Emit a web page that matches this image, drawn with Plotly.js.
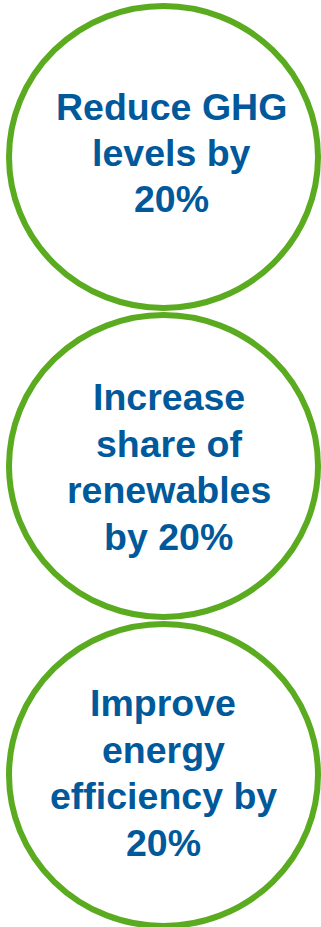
<!DOCTYPE html>
<html>
<head>
<meta charset="utf-8">
<script src="https://cdn.plot.ly/plotly-3.0.1.min.js"></script>
<style>html,body{margin:0;padding:0;background:#fff;}#chart{width:321px;height:927px;}</style>
</head>
<body>
<div id="chart"></div>
<script>
// Data
const goals = [
  "Reduce GHG<br>levels by<br>20%",
  "Increase<br>share of<br>renewables<br>by 20%",
  "Improve<br>energy<br>efficiency by<br>20%"
];

// Layout helpers (positions/styles)
const GREEN = "#5aab1f";
const BLUE = "#00599b";
const cx = 163.5, rx = 154.5, ry = 151, cy0 = 157, pitch = 309;
const textDx = [7.5, 5, -0.5];
const baseOff = [8.5, 13.5, 10.5];
const lineGap = 46.4;
const fontSize = 37.5;
const midFromBase = 12.5;

const shapes = goals.map((g, i) => ({
  type: "circle", xref: "x", yref: "y",
  x0: cx - rx, x1: cx + rx,
  y0: cy0 + i * pitch - ry, y1: cy0 + i * pitch + ry,
  line: {color: GREEN, width: 6},
  fillcolor: "rgba(0,0,0,0)"
}));

const annotations = [];
goals.forEach((g, i) => {
  const lines = g.split("<br>");
  const n = lines.length;
  lines.forEach((ln, k) => {
    const base = cy0 + i * pitch + baseOff[i] + (k - (n - 1) / 2) * lineGap;
    annotations.push({
      x: cx + textDx[i], y: base - midFromBase,
      xref: "x", yref: "y",
      text: ln, showarrow: false,
      xanchor: "center", yanchor: "middle", align: "center",
      font: {family: "Liberation Sans, Arial, sans-serif", size: fontSize, weight: "bold", color: BLUE}
    });
  });
});

Plotly.newPlot("chart", [{x: [], y: [], type: "scatter", hoverinfo: "skip"}], {
  width: 321, height: 927,
  margin: {l: 0, r: 0, t: 0, b: 0},
  paper_bgcolor: "#fff", plot_bgcolor: "#fff",
  showlegend: false,
  xaxis: {range: [0, 321], visible: false, fixedrange: true},
  yaxis: {range: [927, 0], visible: false, fixedrange: true},
  shapes: shapes,
  annotations: annotations
}, {staticPlot: true, displayModeBar: false});
</script>
</body>
</html>
